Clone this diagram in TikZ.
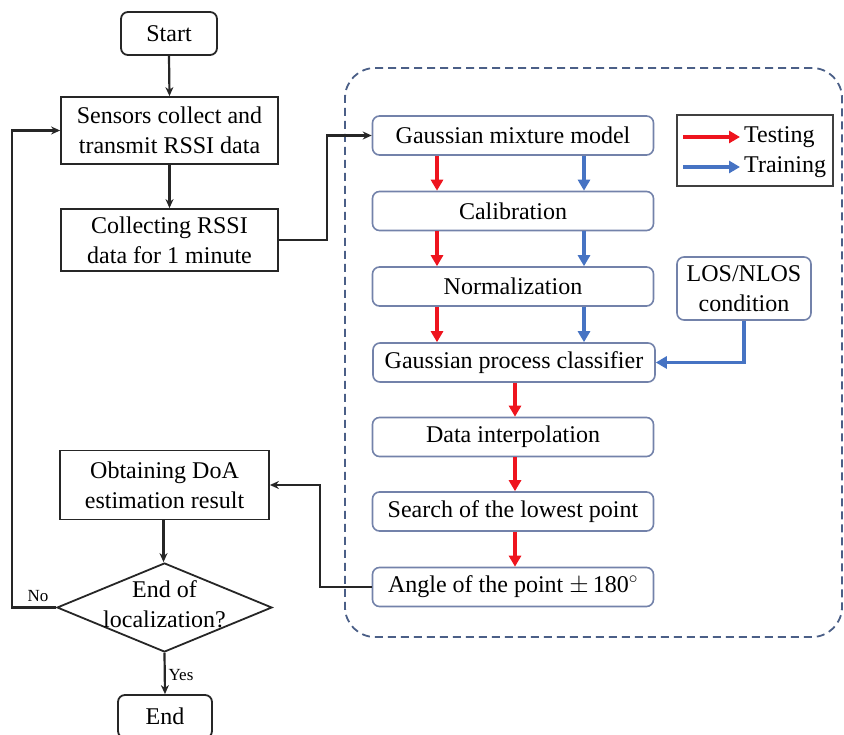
\documentclass[tikz,border=0pt]{standalone}
\usepackage{fontspec}
\setmainfont{Liberation Serif}
\usetikzlibrary{arrows.meta,shapes.geometric,calc}
\definecolor{boxblue}{RGB}{115,130,170}
\definecolor{dashblue}{RGB}{75,95,135}
\definecolor{arrred}{RGB}{238,20,30}
\definecolor{arrblue}{RGB}{70,115,195}
\begin{document}
\begin{tikzpicture}[x=1pt,y=-1pt,
  font=\fontsize{24}{30}\selectfont,
  blk/.style={draw=black!85, line width=1.8pt, align=center, inner sep=0pt},
  rblk/.style={blk, rounded corners=7pt},
  rbox/.style={draw=boxblue, line width=1.6pt, rounded corners=7pt, minimum width=281pt, minimum height=39pt, inner sep=0pt, align=center},
  conn/.style={draw=black!85, line width=2.2pt, -{Stealth[length=9pt,width=8pt]}},
  redarr/.style={draw=arrred, line width=3.6pt, -{Triangle[length=11pt,width=12pt]}},
  bluearr/.style={draw=arrblue, line width=3.6pt, -{Triangle[length=11pt,width=12pt]}},
  small/.style={font=\fontsize{17}{20}\selectfont, inner sep=0pt}
]
\useasboundingbox (0,0) rectangle (844,735);

% dashed region
\node[draw=dashblue, line width=1.8pt, dash pattern=on 8pt off 5pt, rounded corners=30pt,
      minimum width=497pt, minimum height=569pt, inner sep=0pt] (zone) at (593.5,352.5) {};

% left column
\node[rblk, minimum width=96pt, minimum height=43pt] (start) at (169,33.5) {Start};
\node[blk, minimum width=217pt, minimum height=67pt] (sensors) at (169.5,130.5) {Sensors collect and\\transmit RSSI data};
\node[blk, minimum width=217pt, minimum height=62pt] (collect) at (169.5,240) {Collecting RSSI\\data for 1 minute};
\node[blk, minimum width=209pt, minimum height=69pt] (obtain) at (164.5,485) {Obtaining DoA\\estimation result};
\node[diamond, draw=black!85, line width=1.8pt, minimum width=215pt, minimum height=89pt, inner sep=0pt] (dec) at (164.5,607.5) {};
\node[align=center, inner sep=0pt] (dectext) at (164.5,604) {End of\\localization?};
\node[rblk, minimum width=94pt, minimum height=43pt] (end) at (165,716.5) {End};

% right column
\node[rbox] (gmm) at (513,135.5) {Gaussian mixture model};
\node[rbox] (cal) at (513,211) {Calibration};
\node[rbox] (norm) at (513,286.5) {Normalization};
\node[rbox, minimum width=282pt] (gpc) at (514,362.5) {Gaussian process classifier};
\node[rbox] (interp) at (513,437) {Data interpolation};
\node[rbox] (search) at (513,511.5) {Search of the lowest point};
\node[rbox] (angle) at (513,587) {Angle of the point $\pm\,$180$^\circ$};
\node[rbox, minimum width=134pt, minimum height=63pt] (los) at (744,288.5) {LOS/NLOS\\condition};

% legend
\node[draw=black!75, line width=1.8pt, minimum width=156pt, minimum height=71pt, inner sep=0pt] (legend) at (755,150.5) {};
\coordinate (lt1) at (683,137);
\coordinate (lt2) at (740,137);
\coordinate (lb1) at (683,167);
\coordinate (lb2) at (740,167);
\draw[redarr, line width=3.2pt] (lt1) -- (lt2);
\draw[bluearr, line width=3.2pt] (lb1) -- (lb2);
\node[anchor=west, inner sep=0pt] (ttest) at (744,137) {Testing};
\node[anchor=west, inner sep=0pt] (ttrain) at (744,167) {Training};

% black connectors
\draw[conn] (start.south) -- (sensors.north);
\draw[conn] (sensors.south) -- (collect.north);
\draw[conn] (collect.east) -- ++(48,0) |- (gmm.west);
\draw[conn] (angle.west) -- ++(-52,0) |- (obtain.east);
\draw[conn] ($(obtain.south)+(-1,0)$) -- ($(dec.north)+(-1,0)$);
\draw[conn] (dec.south) -- (end.north);
\draw[conn] (dec.west) -- ++(-44,0) |- (sensors.west);
\node[small] (nolab) at (38,596) {No};
\node[small] (yeslab) at (181,675) {Yes};

% coloured flow
\coordinate (rx) at (437,0);
\coordinate (bx) at (584,0);
\coordinate (cx) at (515,0);
\draw[redarr] (gmm.south -| rx) -- (cal.north -| rx);
\draw[bluearr] (gmm.south -| bx) -- (cal.north -| bx);
\draw[redarr] (cal.south -| rx) -- (norm.north -| rx);
\draw[bluearr] (cal.south -| bx) -- (norm.north -| bx);
\draw[redarr] (norm.south -| rx) -- (gpc.north -| rx);
\draw[bluearr] (norm.south -| bx) -- (gpc.north -| bx);
\draw[redarr] (gpc.south -| cx) -- (interp.north -| cx);
\draw[redarr] (interp.south -| cx) -- (search.north -| cx);
\draw[redarr] (search.south -| cx) -- (angle.north -| cx);
\draw[bluearr] (los.south) |- (gpc.east);
\end{tikzpicture}
\end{document}
